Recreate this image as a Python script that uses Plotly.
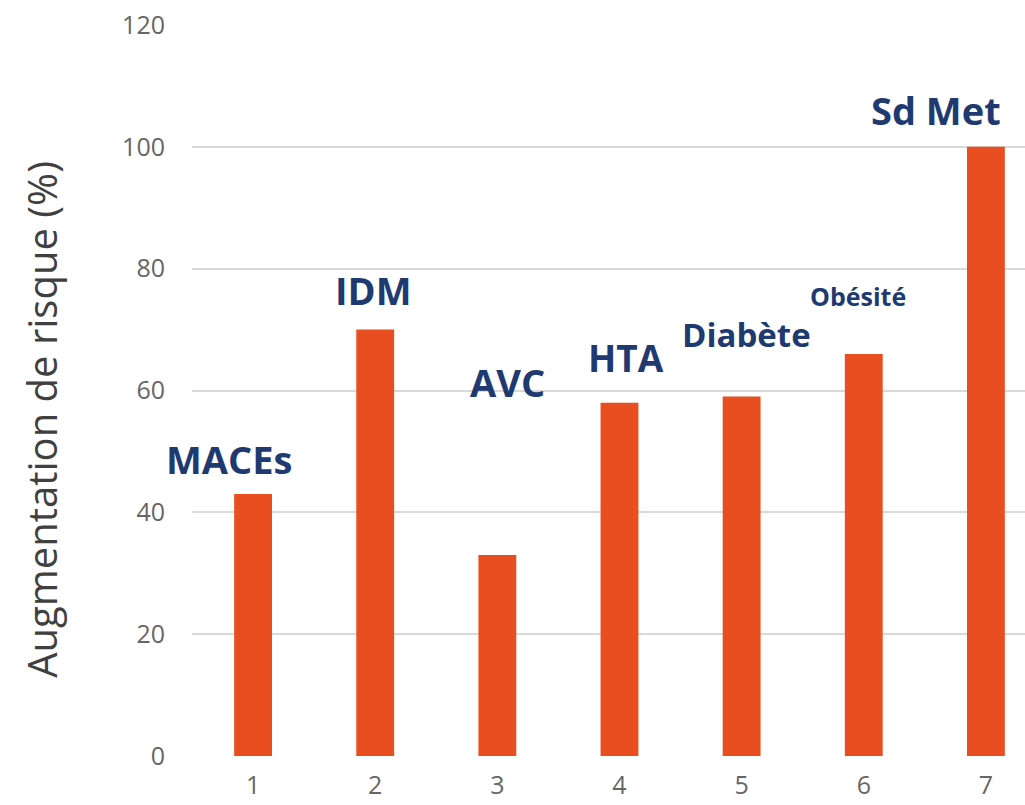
import plotly.graph_objects as go

# ---- data ----
categories = [1, 2, 3, 4, 5, 6, 7]
risk_increase = [43, 70, 33, 58, 59, 66, 100]
bar_labels = ["MACEs", "IDM", "AVC", "HTA", "Diabète", "Obésité", "Sd Met"]
y_ticks = [0, 20, 40, 60, 80, 100, 120]
y_title = "Augmentation de risque (%)"

# ---- label placement / styling (relative to each bar) ----
label_dx = [-0.20, -0.01, 0.08, 0.05, 0.04, -0.05, -0.41]
label_dy = [5.8, 6.5, 28.4, 7.5, 10.2, 9.5, 6.0]
label_size = [38, 38, 38, 37, 33, 25, 38]

BAR = "#E84E1F"
NAVY = "#1F3A70"
TICK = "#666666"

fig = go.Figure()
fig.add_trace(go.Bar(
    x=categories, y=risk_increase, width=0.31,
    marker=dict(color=BAR, line=dict(width=0)),
    hoverinfo="skip", showlegend=False,
))

for c, v, t, dx, dy, s in zip(categories, risk_increase, bar_labels, label_dx, label_dy, label_size):
    fig.add_annotation(
        x=c + dx, y=v + dy, xref="x", yref="y", text=t, showarrow=False,
        xanchor="center", yanchor="middle",
        font=dict(family="Open Sans", size=s, color=NAVY, weight="bold"),
    )

fig.add_annotation(
    x=-0.18, y=0.46, xref="paper", yref="paper", text=y_title, showarrow=False,
    textangle=-90, xanchor="center", yanchor="middle",
    font=dict(family="Open Sans", size=40, color="#404040"),
)

fig.update_layout(
    width=1025, height=805,
    margin=dict(l=192, r=0, t=25, b=49),
    paper_bgcolor="white", plot_bgcolor="white",
    xaxis=dict(
        range=[0.5, 7.32], tickmode="array", tickvals=categories,
        ticktext=[str(c) for c in categories],
        showgrid=False, zeroline=False, showline=False, ticks="",
        tickfont=dict(family="Open Sans", size=25, color=TICK),
        ticklabelstandoff=12, automargin=False,
    ),
    yaxis=dict(
        range=[0, 120], tickmode="array", tickvals=y_ticks,
        showgrid=True, gridcolor="#d9d9d9", gridwidth=2,
        zeroline=False, showline=False, ticks="",
        tickfont=dict(family="Open Sans", size=25, color=TICK),
        ticklabelstandoff=26, automargin=False,
    ),
)

fig.write_html("out.html")
